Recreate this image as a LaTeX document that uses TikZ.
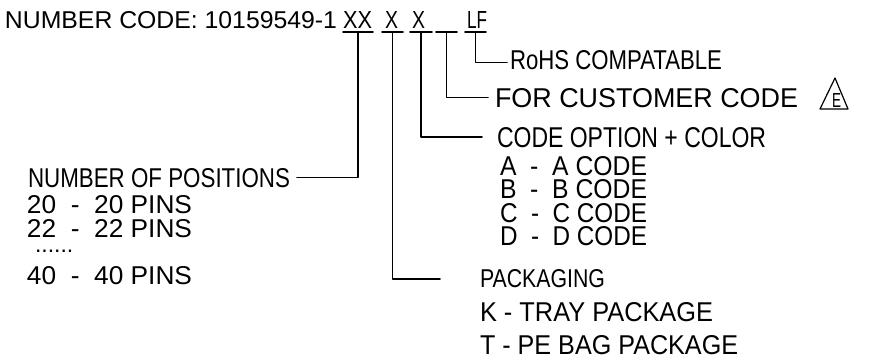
\documentclass[tikz,border=0pt]{standalone}
\usepackage{fontspec}
\setmainfont{Liberation Sans}
\usepackage{graphicx}

% fit a text to a given width and cap height (in pt)
\newcommand{\cad}[3]{\resizebox{#1pt}{#2pt}{#3}}

\begin{document}
\begin{tikzpicture}[x=1pt, y=-1pt, line cap=round, line join=round,
  lbl/.style={anchor=base west, inner sep=0pt, outer sep=0pt},
  wire/.style={line width=1.6pt}]

\useasboundingbox (0,0) rectangle (880,360);

% --- Number code ---
\node[lbl] (code) at (5,28) {\cad{332}{17}{NUMBER CODE: 10159549-1}};
\node[lbl] (xx) at (343,28) {\cad{29}{17}{XX}};
\node[lbl] (xa) at (385,28) {\cad{13}{17}{X}};
\node[lbl] (xb) at (412,28) {\cad{13}{17}{X}};
\node[lbl] (lf) at (467,28) {\cad{20}{17}{LF}};

% --- Underlines ---
\foreach \a/\b/\n in {343/373/upos, 382/403/upk, 410/432/uopt, 436/457/ucust, 465/486/urohs}
{
  \draw[wire] (\a,32) -- (\b,32);
  \coordinate (\n) at ({(\a+\b)/2},32);
}

% --- Right labels ---
\node[lbl] (rohs) at (510,69) {\cad{212}{19}{RoHS COMPATABLE}};
\node[lbl] (cust) at (495,107) {\cad{303}{19}{FOR CUSTOMER CODE}};
\node[lbl] (opt) at (497,147) {\cad{269}{20}{CODE OPTION + COLOR}};
\node[lbl] (opta) at (500,175) {\cad{147}{19}{A \ - \ A CODE}};
\node[lbl] (optb) at (500,198) {\cad{147}{19}{B \ - \ B CODE}};
\node[lbl] (optc) at (500,222) {\cad{147}{19}{C \ - \ C CODE}};
\node[lbl] (optd) at (500,245) {\cad{147}{19}{D \ - \ D CODE}};

% revision mark
\coordinate (rv1) at (820,109);
\coordinate (rv2) at (848,109);
\coordinate (rv3) at (835,78);
\draw[line width=1.2pt] (rv1) -- (rv2) -- (rv3) -- cycle;
\node[lbl] (rev) at (832,107) {\cad{9}{14}{E}};

% --- Positions ---
\node[lbl] (npos) at (28,187) {\cad{262}{19}{NUMBER OF POSITIONS}};
\node[lbl] (p20) at (27,213) {\cad{165}{18}{20 \ - \ 20 PINS}};
\node[lbl] (p22) at (27,237) {\cad{165}{18}{22 \ - \ 22 PINS}};
\node[lbl] (pdots) at (35,252) {\fontsize{23}{23}\selectfont ......};
\node[lbl] (p40) at (27,284) {\cad{165}{18}{40 \ - \ 40 PINS}};

% --- Packaging ---
\node[lbl] (pack) at (480,287) {\cad{125}{18}{PACKAGING}};
\node[lbl] (packk) at (480,321) {\cad{233}{19}{K - TRAY PACKAGE}};
\node[lbl] (packt) at (480,354) {\cad{258}{19}{T - PE BAG PACKAGE}};
\coordinate (pkend) at (440,279);

% --- Leaders ---
\draw[wire] (upos) |- ([xshift=7pt]npos.east);
\draw[wire] (upk) |- (pkend);
\draw[wire] (uopt) |- ([xshift=-15pt]opt.west);
\draw[wire] (ucust) |- ([xshift=-7pt]cust.west);
\draw[wire] (urohs) |- ([xshift=-3pt,yshift=-3pt]rohs.west);

\end{tikzpicture}
\end{document}
